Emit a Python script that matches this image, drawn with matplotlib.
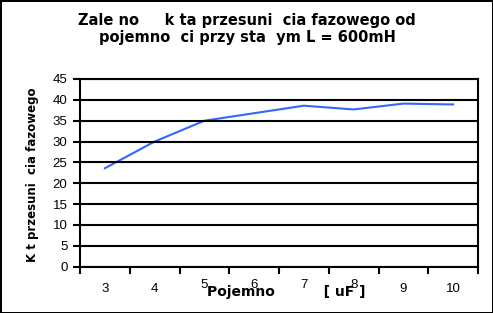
import numpy as np
from matplotlib import pyplot as plt

plt.rcParams['font.family'] = ['Liberation Sans', 'DejaVu Sans']

# pojemnosc [uF] i kat przesuniecia fazowego
categories = ['3', '4', '5', '6', '7', '8', '9', '10']
angle = [23.6, 30.0, 35.0, 36.8, 38.6, 37.7, 39.1, 38.9]
yticks = [0, 5, 10, 15, 20, 25, 30, 35, 40, 45]

fig = plt.figure(figsize=(4.93, 3.13), dpi=100)
fig.patch.set_edgecolor('black')
fig.patch.set_linewidth(2)

ax = fig.add_axes([80 / 493, 1 - 266.7 / 313, 398 / 493, 187.7 / 313])

x = np.arange(len(categories)) + 0.5
ax.plot(x, angle, color='#3366FF', lw=1.5)

ax.set_xlim(0, len(categories))
ax.set_ylim(0, 45)
ax.set_yticks(yticks)
ax.set_yticklabels([str(v) for v in yticks], fontsize=9.5)
ax.set_xticks(np.arange(len(categories) + 1))
ax.set_xticklabels([])
ax.tick_params(axis='both', which='major', length=5, width=1.5, color='black')
ax.tick_params(axis='y', pad=4)

# category labels between the ticks; the ones above the axis title sit higher
for i, (xi, lab) in enumerate(zip(x, categories)):
    off = 9 if 2 <= i <= 5 else 12
    ax.annotate(lab, (xi, 0), xycoords=('data', 'axes fraction'),
                xytext=(0, -off), textcoords='offset points',
                ha='center', va='top', fontsize=9.5)

ax.grid(axis='y', color='black', lw=1.5)
ax.set_axisbelow(False)
for side in ['left', 'bottom', 'right', 'top']:
    ax.spines[side].set_linewidth(1.5)

bold = dict(family='DejaVu Sans', fontweight='bold')
fig.text(247 / 493, 1 - 25 / 313, 'Zale no     k ta przesuni  cia fazowego od',
         ha='center', va='baseline', fontsize=10.5, **bold)
fig.text(247 / 493, 1 - 42 / 313, 'pojemno  ci przy sta  ym L = 600mH',
         ha='center', va='baseline', fontsize=10.5, **bold)
fig.text(286 / 493, 1 - 296 / 313, 'Pojemno          [ uF ]',
         ha='center', va='baseline', fontsize=10, **bold)
fig.text(33 / 493, 1 - 175 / 313, 'K t przesuni  cia fazowego', rotation=90,
         ha='center', va='center', fontsize=8.5, **bold)

fig.savefig('out.png', dpi=100)
